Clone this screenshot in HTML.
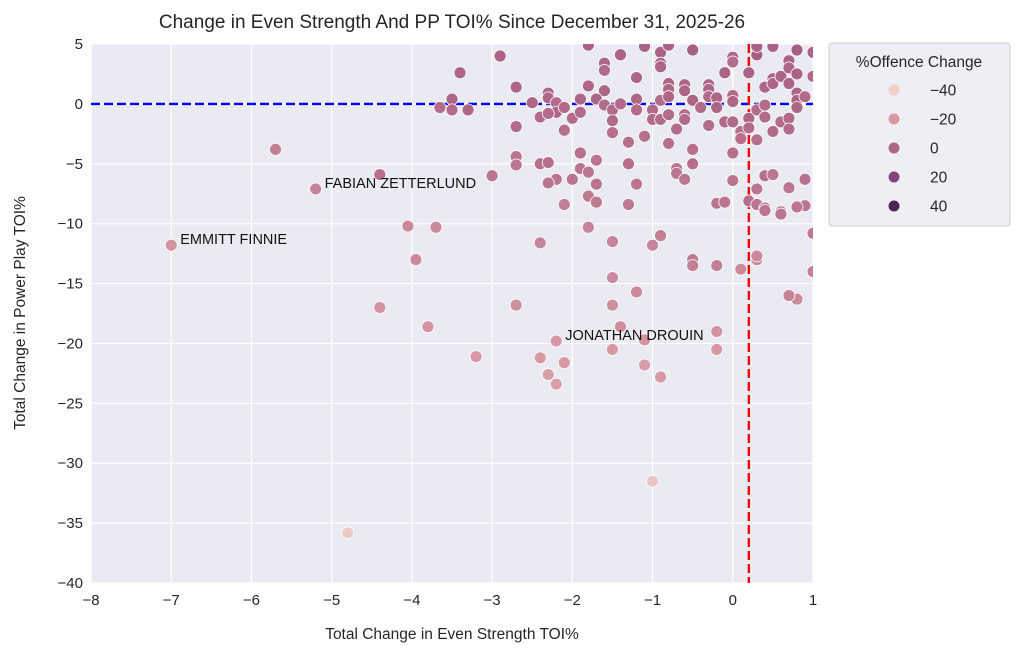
<!DOCTYPE html>
<html><head><meta charset="utf-8">
<style>
html,body{margin:0;padding:0;background:#fff;}
svg{display:block;font-family:"Liberation Sans","DejaVu Sans",sans-serif;}
</style></head>
<body>
<svg id="chart" width="1024" height="659" viewBox="0 0 1024 659">
  <text x="452" y="28" text-anchor="middle" font-size="19" fill="#262626">Change in Even Strength And PP TOI% Since December 31, 2025-26</text>
  <rect x="91" y="44" width="722" height="539" fill="#eaeaf2"/>
  <g id="grid"></g>
  <g id="xticks"></g>
  <g id="yticks"></g>
  <g id="refs"></g>
  <g id="points"></g>
  <g id="labels"></g>
  <text x="452" y="639" text-anchor="middle" font-size="15.5" fill="#262626">Total Change in Even Strength TOI%</text>
  <text x="0" y="0" transform="translate(25,313) rotate(-90)" text-anchor="middle" font-size="15.5" fill="#262626">Total Change in Power Play TOI%</text>
  <g>
    <rect x="829" y="43" width="181" height="183" rx="3" fill="#eaeaf2" fill-opacity="0.8" stroke="#cccccc"/>
    <text x="919" y="67" text-anchor="middle" font-size="15.5" fill="#262626">%Offence Change</text>
    <g id="legend-entries"></g>
  </g>
</svg>
<script>
const xTicks = [-8,-7,-6,-5,-4,-3,-2,-1,0,1];
const yTicks = [5,0,-5,-10,-15,-20,-25,-30,-35,-40];
const legendValues = [-40,-20,0,20,40];
const xRef = 0.2;
const yRef = 0;
const xVals = [-5.7,-5.2,-7.0,-4.4,-4.8,-1.0,-4.4,-4.05,-3.95,-3.8,-3.2,-2.7,-2.4,-2.3,-2.2,-2.2,-2.1,-2.4,-1.5,-1.5,-1.5,-1.5,-1.2,-1.4,-1.1,-1.1,-0.9,-1.0,-0.9,-0.5,-0.5,-0.2,-0.2,-0.2,0.1,0.3,0.3,-0.2,-0.1,0.2,0.3,0.4,0.5,0.4,0.6,0.7,0.9,0.8,0.7,1.0,1.0,0.9,
-2.9,-3.4,-3.5,-3.5,-3.3,-3.65,-2.7,-2.7,-2.7,-2.7,-2.5,-2.4,-2.3,-2.3,-2.2,-2.2,-2.3,-2.1,-2.1,-2.0,-1.9,-1.9,-1.8,-1.6,-1.6,-1.6,-1.7,-1.6,-1.5,-1.5,-1.5,-1.4,-1.4,-1.3,-1.2,-1.2,-1.2,-1.1,-1.0,-1.0,-0.9,-0.9,-0.9,-0.9,-0.9,-0.8,-0.8,-0.8,-0.8,-0.8,-0.7,-0.6,-0.6,-0.6,-0.6,-0.5,-0.5,-0.5,-0.4,-0.3,-0.3,-0.3,-0.3,-0.2,-0.2,-0.1,-0.1,0.0,0.0,0.0,0.0,0.0,0.1,0.1,0.0,0.2,0.2,0.2,0.3,0.3,0.3,0.4,0.4,0.4,0.5,0.5,0.5,0.6,0.6,0.7,0.7,0.7,0.7,0.7,0.8,0.8,0.8,0.8,0.8,0.9,1.0,1.0,
-1.8,-1.1,-0.8,0.3,0.5,
-2.4,-2.3,-2.2,-2.3,-3.0,-2.0,-1.9,-1.9,-1.8,-1.7,-1.7,-1.8,-1.7,-2.1,-1.3,-1.2,-1.3,-0.7,-0.7,-0.6,-0.5,0.0,0.3,0.4,0.6,0.8,-1.8,-3.7];
const yVals = [-3.8,-7.1,-11.8,-5.9,-35.8,-31.5,-17.0,-10.2,-13.0,-18.6,-21.1,-16.8,-21.2,-22.6,-23.4,-19.8,-21.6,-11.6,-11.5,-16.8,-14.5,-20.5,-15.7,-18.6,-19.7,-21.8,-22.8,-11.8,-11.0,-13.0,-13.5,-13.5,-20.5,-19.0,-13.8,-13.0,-12.7,-8.3,-8.2,-8.1,-8.4,-6.0,-5.9,-8.7,-9.0,-7.0,-8.5,-16.3,-16.0,-10.8,-14.0,-6.3,
4.0,2.6,0.4,-0.5,-0.5,-0.3,1.4,-1.9,-4.4,-5.1,0.1,-1.1,0.9,0.5,0.1,-0.7,-0.8,-0.3,-2.2,-1.2,0.4,-0.7,1.5,3.4,2.8,1.1,0.4,-0.1,-0.5,-1.4,-2.4,4.1,0.0,-3.2,2.2,0.4,-0.5,-2.7,-0.5,-1.3,4.3,3.4,3.1,0.3,-1.3,1.7,1.2,0.6,-0.9,-3.3,-2.1,1.6,1.1,-0.9,-1.3,4.5,0.3,-3.8,-0.3,1.6,1.2,0.6,-1.8,0.5,-0.3,2.6,-1.5,3.9,3.5,0.7,0.2,-1.5,-2.3,-2.9,-4.1,2.6,-1.2,-2.0,4.1,-0.5,-3.0,1.4,-0.1,-1.1,2.1,1.7,-2.3,2.3,-1.5,3.6,3.0,1.7,-1.2,-2.1,4.5,2.5,0.9,0.3,-0.3,0.6,4.3,2.3,
4.9,4.8,4.9,4.8,4.8,
-5.0,-4.9,-6.3,-6.6,-6.0,-6.3,-4.1,-5.4,-5.7,-4.7,-6.7,-7.7,-8.2,-8.4,-5.0,-6.7,-8.4,-5.4,-5.8,-6.3,-5.0,-6.4,-7.1,-8.9,-9.2,-8.6,-10.3,-10.3];
const cVals = [-10,-12,-18,-4,-38,-36,-18,-14,-14,-18,-20,-16,-20,-22,-22,-20,-20,-12,-12,-16,-14,-20,-14,-16,-18,-22,-20,-12,-10,-8,-10,-10,-20,-18,-14,-12,-14,-6,-6,-4,-6,-4,-6,-6,-6,-6,-6,-14,-12,-8,-10,-4,
2,0,0,-2,0,-2,0,-2,-6,-6,0,-2,0,0,-2,0,-2,-2,-4,-2,0,-2,0,0,-2,0,0,-2,-2,-2,-4,2,-2,-4,0,0,-2,-4,-2,-2,2,0,0,-2,-2,0,0,0,-2,-4,-2,0,0,-2,-2,4,0,-4,-2,0,0,-2,-2,0,0,2,-2,0,-2,-2,0,-2,-4,-4,-4,2,0,-2,4,-2,-4,0,-2,-2,0,0,-2,2,-2,2,0,0,-2,-2,4,2,0,0,0,-2,2,0,
2,2,2,2,2,
-4,-4,-6,-6,-6,-6,-4,-6,-6,-6,-6,-8,-8,-10,-4,-6,-8,-6,-6,-6,-4,-6,-6,-6,-6,-6,-12,-14];
const labelNames = ["EMMITT FINNIE","FABIAN ZETTERLUND","JONATHAN DROUIN"];
const labelX = [-7.0,-5.2,-2.2];
const labelY = [-11.8,-7.1,-19.8];

const NS="http://www.w3.org/2000/svg";
const L=91,R=813,T=44,B=583;
const xs=v=>L+(v+8)/9*(R-L);
const ys=v=>T+(5-v)/45*(B-T);
function mk(tag,attrs,parent){const e=document.createElementNS(NS,tag);for(const k in attrs)e.setAttribute(k,attrs[k]);parent.appendChild(e);return e;}
const stops=[[-40,[239,208,200]],[-20,[215,152,164]],[0,[174,102,136]],[20,[130,69,122]],[40,[74,39,82]]];
function col(v){v=Math.max(-40,Math.min(40,v));for(let i=0;i<4;i++){const a=stops[i],b=stops[i+1];if(v<=b[0]){const t=(v-a[0])/(b[0]-a[0]);const c=a[1].map((x,j)=>Math.round(x+(b[1][j]-x)*t));return `rgb(${c.join(',')})`;}}return 'rgb(74,39,82)';}
const grid=document.getElementById('grid'),xt=document.getElementById('xticks'),yt=document.getElementById('yticks');
xTicks.forEach(v=>{
  const g=mk('line',{x1:xs(v),x2:xs(v),y1:T,y2:B,stroke:'#fff','stroke-width':1.2},grid);
  
  
  const t=mk('text',{x:xs(v),y:B+22,'text-anchor':'middle','font-size':15,fill:'#262626'},xt);
  t.textContent=String(v).replace('-','\u2212');
  
  
});
yTicks.forEach(v=>{
  const g=mk('line',{x1:L,x2:R,y1:ys(v),y2:ys(v),stroke:'#fff','stroke-width':1.2},grid);
  
  
  const t=mk('text',{x:L-8,y:ys(v)+5,'text-anchor':'end','font-size':15,fill:'#262626'},yt);
  t.textContent=String(v).replace('-','\u2212');
  
  
});
const refs=document.getElementById('refs');
const hl=mk('line',{x1:L,x2:R,y1:ys(yRef),y2:ys(yRef),stroke:'#0000ff','stroke-width':2.4,'stroke-dasharray':'9,4'},refs);


const vl=mk('line',{x1:xs(xRef),x2:xs(xRef),y1:T,y2:B,stroke:'#ff0000','stroke-width':2.4,'stroke-dasharray':'9,4'},refs);


const pts=document.getElementById('points');
const clip=mk('clipPath',{id:'pc'},document.getElementById('chart'));
mk('rect',{x:L,y:T,width:R-L,height:B-T},clip);
pts.setAttribute('clip-path','url(#pc)');
for(let i=0;i<xVals.length;i++){
  const c=mk('circle',{cx:xs(xVals[i]),cy:ys(yVals[i]),r:6,fill:col(cVals[i]),stroke:'#fff','stroke-width':0.8},pts);
  
  
}
const lab=document.getElementById('labels');
labelNames.forEach((n,i)=>{
  const t=mk('text',{x:xs(labelX[i])+9,y:ys(labelY[i])-1,'font-size':14.5,fill:'#111'},lab);
  t.textContent=n;
  
  
});
const le=document.getElementById('legend-entries');
legendValues.forEach((v,i)=>{
  const y=90+i*29;
  const c=mk('circle',{cx:894,cy:y,r:5.5,fill:col(v)},le);
  
  
  const t=mk('text',{x:930,y:y+5.5,'font-size':15.5,fill:'#262626'},le);
  t.textContent=String(v).replace('-','\u2212');
  
  
});
</script>
</body></html>
